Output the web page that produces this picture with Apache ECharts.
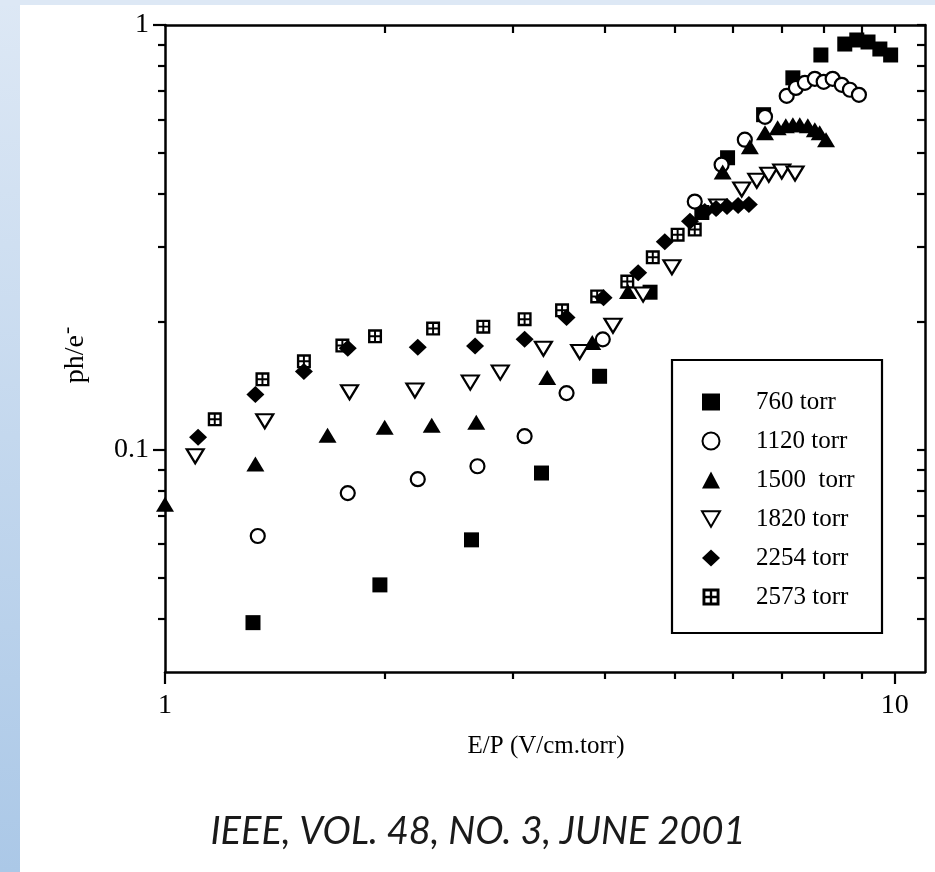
<!DOCTYPE html>
<html><head><meta charset="utf-8">
<script src="https://cdn.jsdelivr.net/npm/echarts@6/dist/echarts.min.js"></script>
<style>html,body{margin:0;padding:0;background:#fff}#c{width:935px;height:872px}</style>
</head><body><div id="c"></div>
<script>
// ---- data (E/P in V/cm.torr, ph/e-) ----
const ep760  = [1.32, 1.97, 2.63, 3.28, 3.94, 4.62, 5.44, 5.90, 6.61, 7.25, 7.92, 8.54, 8.87, 9.19, 9.54, 9.87];
const ph760  = [0.0392, 0.0481, 0.0614, 0.0882, 0.149, 0.235, 0.362, 0.487, 0.615, 0.751, 0.850, 0.902, 0.922, 0.912, 0.878, 0.850];
const ep1120 = [1.34, 1.78, 2.22, 2.68, 3.11, 3.55, 3.98, 5.32, 5.79, 6.23, 6.64, 7.11, 7.32, 7.53, 7.77, 7.99, 8.22, 8.46, 8.68, 8.93];
const ph1120 = [0.0627, 0.0791, 0.0853, 0.0915, 0.1077, 0.136, 0.182, 0.384, 0.469, 0.537, 0.608, 0.681, 0.711, 0.731, 0.747, 0.735, 0.747, 0.723, 0.704, 0.685];
const ep1500 = [1.0, 1.33, 1.67, 2.00, 2.32, 2.67, 3.34, 3.85, 4.31, 5.81, 6.33, 6.64, 6.91, 7.09, 7.25, 7.41, 7.60, 7.77, 7.89, 8.05];
const ph1500 = [0.0745, 0.0926, 0.1083, 0.1131, 0.1143, 0.1161, 0.148, 0.179, 0.236, 0.451, 0.517, 0.558, 0.573, 0.579, 0.582, 0.582, 0.579, 0.567, 0.558, 0.537];
const ep1820 = [1.10, 1.37, 1.79, 2.20, 2.62, 2.88, 3.30, 3.70, 4.11, 4.52, 4.95, 5.72, 6.17, 6.47, 6.72, 7.00, 7.30];
const ph1820 = [0.0966, 0.1168, 0.1366, 0.138, 0.144, 0.152, 0.173, 0.170, 0.196, 0.232, 0.269, 0.374, 0.410, 0.430, 0.444, 0.452, 0.447];
const ep2254 = [1.11, 1.33, 1.55, 1.78, 2.22, 2.66, 3.11, 3.55, 3.99, 4.45, 4.84, 5.24, 5.49, 5.69, 5.89, 6.10, 6.31];
const ph2254 = [0.107, 0.135, 0.153, 0.1735, 0.1745, 0.1755, 0.182, 0.205, 0.228, 0.261, 0.309, 0.345, 0.364, 0.370, 0.374, 0.376, 0.378];
const ep2573 = [1.17, 1.36, 1.55, 1.75, 1.94, 2.33, 2.73, 3.11, 3.50, 3.91, 4.30, 4.66, 5.04, 5.32];
const ph2573 = [0.118, 0.1466, 0.1616, 0.176, 0.185, 0.193, 0.195, 0.203, 0.213, 0.2297, 0.249, 0.284, 0.321, 0.330];

const seriesNames = ['760 torr', '1120 torr', '1500  torr', '1820 torr', '2254 torr', '2573 torr'];

// ---- axes / ticks ----
const xRange = [1, 11];
const yRange = [0.03, 1];
const xMajorTicks = [1, 10];
const xMinorTicks = [2, 3, 4, 5, 6, 7, 8, 9];
const yMajorTicks = [0.1, 1];
const yMinorTicks = [0.04, 0.05, 0.06, 0.07, 0.08, 0.09, 0.2, 0.3, 0.4, 0.5, 0.6, 0.7, 0.8, 0.9];

const xTitle = 'E/P (V/cm.torr)';
const caption = 'IEEE, VOL. 48, NO. 3, JUNE 2001';

const L = Math.log10;
const zip = (a, b) => a.map((v, i) => [v, b[i]]);
const serif = '"Liberation Serif", "Times New Roman", serif';
const fmt = v => String(+Math.pow(10, v).toPrecision(2));
const black = '#000';

function tickAxis(pos, range, ticks, len, inside, lineShow, labels, margin) {
  return {
    type: 'value', position: pos, min: L(range[0]), max: L(range[1]),
    axisLine: { show: lineShow, onZero: false, lineStyle: { color: black, width: 2.5 } },
    axisTick: { show: true, inside: inside, length: len, customValues: ticks.map(L), lineStyle: { color: black, width: 2.2 } },
    axisLabel: labels ? { show: true, customValues: labels.map(L), formatter: fmt, color: black, fontFamily: serif, fontSize: 28, margin: margin } : { show: false },
    splitLine: { show: false }, splitArea: { show: false }
  };
}

const downTri = 'path://M0,0L10,0L5,8.7Z';
const boxPlus = 'path://M0,0L10,0L10,10L0,10Z M1.7,1.7L1.7,4.3L4.3,4.3L4.3,1.7Z M5.7,1.7L5.7,4.3L8.3,4.3L8.3,1.7Z M1.7,5.7L1.7,8.3L4.3,8.3L4.3,5.7Z M5.7,5.7L5.7,8.3L8.3,8.3L8.3,5.7Z';

const filled = { color: black, borderWidth: 0, opacity: 1 };
const open = { color: '#fff', borderColor: black, borderWidth: 2.2, opacity: 1 };

const series = [
  { name: seriesNames[5], data: zip(ep2573, ph2573), symbol: boxPlus, symbolSize: 14, itemStyle: filled },
  { name: seriesNames[0], data: zip(ep760, ph760), symbol: 'rect', symbolSize: 15, itemStyle: filled },
  { name: seriesNames[1], data: zip(ep1120, ph1120), symbol: 'circle', symbolSize: 14, itemStyle: open },
  { name: seriesNames[2], data: zip(ep1500, ph1500), symbol: 'triangle', symbolSize: [18, 15], itemStyle: filled },
  { name: seriesNames[3], data: zip(ep1820, ph1820), symbol: downTri, symbolSize: [17, 14], itemStyle: open },
  { name: seriesNames[4], data: zip(ep2254, ph2254), symbol: 'diamond', symbolSize: [18, 17], itemStyle: filled }
].map(s => Object.assign({ type: 'scatter', xAxisIndex: 0, yAxisIndex: 0, clip: false, animation: false, emphasis: { disabled: true } }, s));

const chart = echarts.init(document.getElementById('c'), null, { renderer: 'canvas' });
chart.setOption({
  animation: false,
  backgroundColor: '#fff',
  grid: { left: 165, top: 25, width: 760, height: 647, containLabel: false, outerBoundsMode: 'none' },
  xAxis: [
    { type: 'log', logBase: 10, min: xRange[0], max: xRange[1], show: false, axisLine: { onZero: false } },
    tickAxis('bottom', xRange, xMajorTicks, 12, false, true, xMajorTicks, 20),
    tickAxis('bottom', xRange, xMinorTicks, 7, false, false, null),
    tickAxis('top', xRange, xMinorTicks.concat([10]), 8, true, true, null)
  ],
  yAxis: [
    { type: 'log', logBase: 10, min: yRange[0], max: yRange[1], show: false, axisLine: { onZero: false } },
    tickAxis('left', yRange, yMajorTicks, 12, false, true, yMajorTicks, 16),
    tickAxis('left', yRange, yMinorTicks, 7, false, false, null),
    tickAxis('right', yRange, yMinorTicks.concat(yMajorTicks), 8, true, true, null)
  ],
  legend: {
    data: seriesNames, orient: 'vertical', left: 701, top: 389, padding: 0,
    itemWidth: 18, itemHeight: 17, itemGap: 13, selectedMode: false,
    textStyle: { color: black, fontFamily: serif, fontSize: 25, lineHeight: 26, padding: [0, 0, 0, 31] }
  },
  graphic: [
    { type: 'rect', silent: true, z: -10, shape: { x: 0, y: 0, width: 20, height: 872 },
      style: { fill: new echarts.graphic.LinearGradient(0, 0, 0, 1, [{ offset: 0, color: '#dde8f5' }, { offset: 1, color: '#abc8e7' }]) } },
    { type: 'rect', silent: true, z: -10, shape: { x: 0, y: 0, width: 935, height: 5 }, style: { fill: '#dde8f5' } },
    { type: 'rect', silent: true, shape: { x: 672, y: 360, width: 210, height: 273 }, style: { fill: 'none', stroke: black, lineWidth: 2.2 } },
    { type: 'text', silent: true, x: 546, y: 746, style: { text: xTitle, fill: black, font: '25px ' + serif, align: 'center', verticalAlign: 'middle' } },
    { type: 'text', silent: true, x: 73, y: 355, rotation: Math.PI / 2,
      style: { text: '{a|ph/e}{b|-}', align: 'center', verticalAlign: 'middle',
        rich: { a: { fontFamily: serif, fontSize: 28, fill: black, verticalAlign: 'bottom' },
                b: { fontFamily: serif, fontSize: 22, fill: black, verticalAlign: 'bottom', padding: [0, 0, 12, 1] } } } },
    { type: 'text', silent: true, x: 478, y: 832,
      style: { text: caption, fill: '#1a1a1a', fontFamily: 'Lato, "Liberation Sans", sans-serif', fontStyle: 'italic', fontSize: 38, align: 'center', verticalAlign: 'middle' } }
  ],
  series: series
});
</script>
</body></html>
